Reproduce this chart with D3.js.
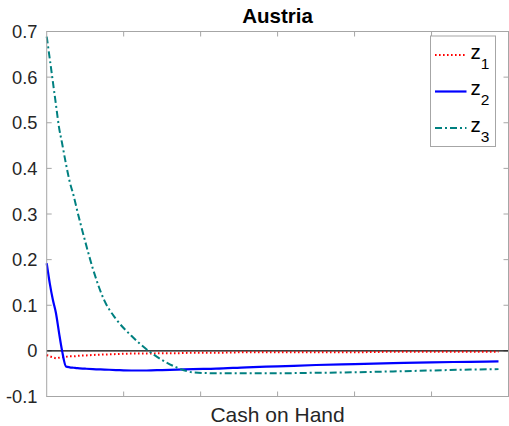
<!DOCTYPE html>
<html><head><meta charset="utf-8">
<script src="https://cdn.jsdelivr.net/npm/d3@7"></script>
<style>body{margin:0;background:#fff}svg{display:block}text{font-family:"Liberation Sans",Arial,Helvetica,sans-serif}</style>
</head><body><div id="chart"></div>
<script>
const cashOnHand = [0,0.04,0.08,0.12,0.16,0.2,0.25,0.3,0.35,0.4,0.5,0.6,0.75,0.9,1.1,1.3,1.5,1.7,1.9,2.2,2.6,3.0,3.5,4.0,4.5,5.0,5.5,5.87];
const z1 = [-0.009,-0.012,-0.014,-0.016,-0.015,-0.014,-0.013,-0.012,-0.012,-0.011,-0.010,-0.009,-0.008,-0.007,-0.006,-0.006,-0.005,-0.005,-0.004,-0.004,-0.003,-0.003,-0.003,-0.003,-0.002,-0.002,-0.002,-0.002];
const z2 = [0.192,0.148,0.112,0.083,0.040,0.000,-0.034,-0.036,-0.037,-0.038,-0.039,-0.040,-0.041,-0.042,-0.043,-0.043,-0.042,-0.041,-0.040,-0.039,-0.036,-0.034,-0.031,-0.029,-0.027,-0.025,-0.024,-0.023];
const z3 = [0.689,0.640,0.590,0.540,0.490,0.455,0.410,0.370,0.340,0.305,0.240,0.180,0.110,0.070,0.033,0.003,-0.020,-0.037,-0.047,-0.049,-0.049,-0.049,-0.048,-0.047,-0.045,-0.043,-0.041,-0.040];
const yTicks = [-0.1,0,0.1,0.2,0.3,0.4,0.5,0.6,0.7];
const yTickLabels = ["-0.1","0","0.1","0.2","0.3","0.4","0.5","0.6","0.7"];
const xTicks = [1,2,3,4,5];
const seriesNames = ["z1","z2","z3"];
const title = "Austria";
const xLabel = "Cash on Hand";

const W = 509, H = 426;
const L = 46.7, R = 508.5, T = 31.5, B = 396.5;
const svg = d3.select("#chart").append("svg").attr("width", W).attr("height", H);
const x = d3.scaleLinear().domain([0, 6]).range([L, R]);
const y = d3.scaleLinear().domain([-0.1, 0.7]).range([B, T]);
const axisColor = "#a6a6a6";
const textColor = "#262626";

// ticks (inward)
const tl = 5;
const g = svg.append("g");
xTicks.forEach(t => {
  g.append("line").attr("x1", x(t)).attr("x2", x(t)).attr("y1", B).attr("y2", B - tl).attr("stroke", axisColor);
  g.append("line").attr("x1", x(t)).attr("x2", x(t)).attr("y1", T).attr("y2", T + tl).attr("stroke", axisColor);
});
yTicks.forEach((t, i) => {
  g.append("line").attr("x1", L).attr("x2", L + tl).attr("y1", y(t)).attr("y2", y(t)).attr("stroke", axisColor);
  g.append("line").attr("x1", R).attr("x2", R - tl).attr("y1", y(t)).attr("y2", y(t)).attr("stroke", axisColor);
  g.append("text").attr("x", 37.5).attr("y", y(t) + 6.5).attr("text-anchor", "end")
    .attr("font-size", 18.3).attr("fill", textColor).text(yTickLabels[i]);
});

// zero line
svg.append("line").attr("x1", L).attr("x2", R).attr("y1", y(0)).attr("y2", y(0)).attr("stroke", "#000").attr("stroke-width", 1.2);

const line = d3.line().x((d, i) => x(cashOnHand[i])).y(d => y(d)).curve(d3.curveMonotoneX);
const styles = [
  {data: z1, color: "#ff0000", width: 2, dash: "1.6,2.4"},
  {data: z2, color: "#0000ff", width: 2.2, dash: null},
  {data: z3, color: "#008080", width: 2, dash: "7,3,2,3"}
];
styles.forEach(s => {
  svg.append("path").attr("d", line(s.data)).attr("fill", "none")
    .attr("stroke", s.color).attr("stroke-width", s.width)
    .attr("stroke-dasharray", s.dash);
});

// box
svg.append("rect").attr("x", L).attr("y", T).attr("width", R - L).attr("height", B - T)
  .attr("fill", "none").attr("stroke", axisColor).attr("stroke-width", 1);

// title and label
svg.append("text").attr("x", (L + R) / 2).attr("y", 23).attr("text-anchor", "middle")
  .attr("font-size", 20.5).attr("font-weight", "bold").attr("fill", "#000").text(title);
svg.append("text").attr("x", (L + R) / 2).attr("y", 422).attr("text-anchor", "middle")
  .attr("font-size", 21).attr("fill", textColor).text(xLabel);

// legend
const lg = svg.append("g");
lg.append("rect").attr("x", 430.5).attr("y", 36).attr("width", 65).attr("height", 110.5)
  .attr("fill", "#fff").attr("stroke", axisColor);
const ly = [55, 91.5, 128];
styles.forEach((s, i) => {
  lg.append("line").attr("x1", 435).attr("x2", 466.5).attr("y1", ly[i]).attr("y2", ly[i])
    .attr("stroke", s.color).attr("stroke-width", s.width).attr("stroke-dasharray", s.dash);
  const t = lg.append("text").attr("x", 470.5).attr("y", ly[i] + 3.5).attr("font-size", 20.5).attr("fill", "#000");
  t.append("tspan").text(seriesNames[i].charAt(0));
  t.append("tspan").attr("dy", 10).attr("font-size", 15.5).text(seriesNames[i].slice(1));
});
</script></body></html>
